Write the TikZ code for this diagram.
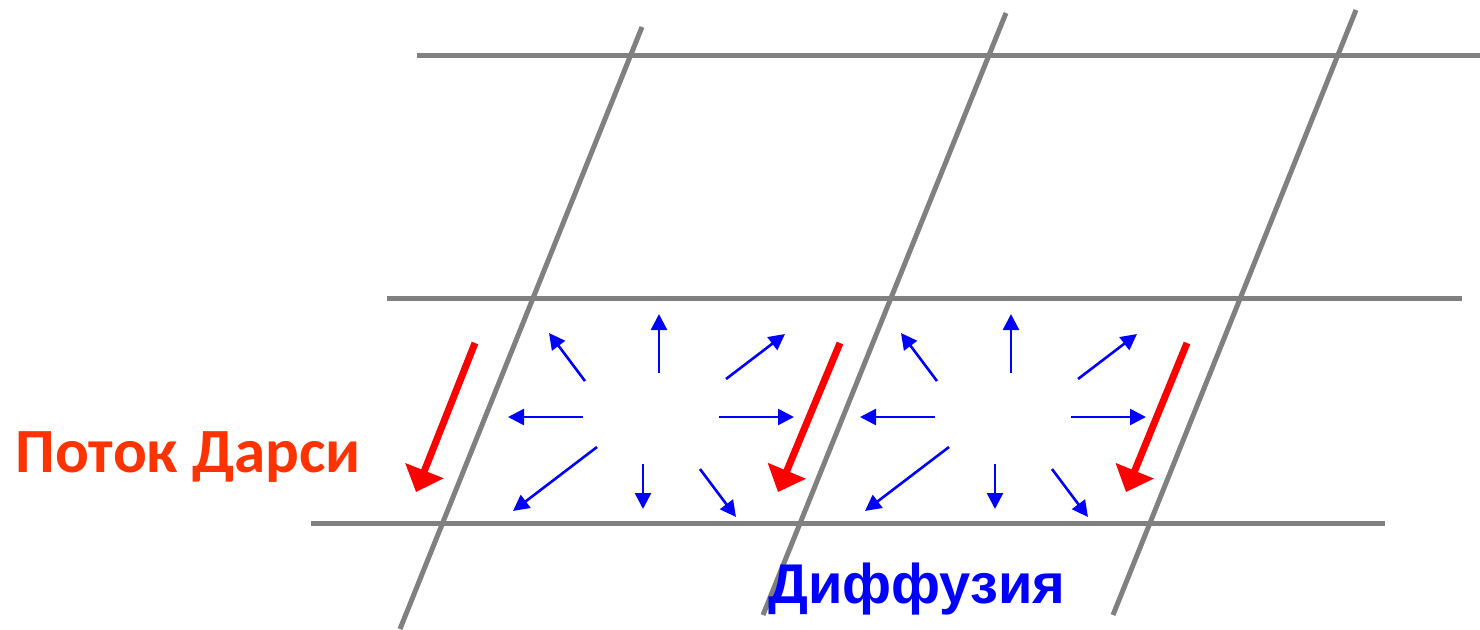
\documentclass[tikz,border=0pt]{standalone}
\usepackage{fontspec}
\setmainfont{Carlito}
\newfontfamily\arialfont{Liberation Sans}
\usetikzlibrary{arrows.meta, positioning}
\definecolor{gridGray}{HTML}{808080}
\definecolor{darcyRed}{HTML}{FF0000}
\definecolor{darcyText}{HTML}{FF3300}
\definecolor{diffBlue}{HTML}{0000FF}

\begin{document}
\begin{tikzpicture}[
    x=0.5pt, y=-0.5pt,
    gline/.style={draw=gridGray, line width=2.5pt},
    darcy/.style={-{Triangle[length=11.5pt, width=20pt]}, draw=darcyRed, line width=3.5pt},
    diff/.style={-{Triangle[length=8pt, width=8pt]}, draw=diffBlue, line width=1.3pt},
    lbl/.style={inner sep=0pt, anchor=base west},
]
\useasboundingbox (0,0) rectangle (1480,629);

% horizontal grid lines
\draw[gline] (417,55) -- (1480,55);
\draw[gline] (387,298) -- (1462,298);
\draw[gline] (311,523) -- (1385,523);
% slanted grid lines
\draw[gline] (642,27) -- (400,629);
\draw[gline] (1006,13) -- (763,615);
\draw[gline] (1356,10) -- (1113,615);

% Darcy flow
\draw[darcy] (475,343) -- (416,492);
\draw[darcy] (840,343) -- (778,492);
\draw[darcy] (1187,343) -- (1126,492);

% diffusion stars
\foreach \dx in {0,352} {
  \draw[diff] (659+\dx,373) -- (659+\dx,314);
  \draw[diff] (585+\dx,381) -- (549+\dx,333);
  \draw[diff] (726+\dx,379) -- (785+\dx,334);
  \draw[diff] (583+\dx,417) -- (508+\dx,417);
  \draw[diff] (719+\dx,417) -- (794+\dx,417);
  \draw[diff] (597+\dx,447) -- (513+\dx,511);
  \draw[diff] (643+\dx,464) -- (643+\dx,509);
  \draw[diff] (700+\dx,469) -- (736+\dx,517);
}

\node[lbl, text=darcyText, font=\bfseries\fontsize{31.5}{36}\selectfont] (darcyLbl) at (15,472) {Поток Дарси};
\node[lbl, text=diffBlue, font=\arialfont\bfseries\fontsize{28}{32}\selectfont] (diffLbl) at (768,603) {Диффузия};

\end{tikzpicture}
\end{document}
